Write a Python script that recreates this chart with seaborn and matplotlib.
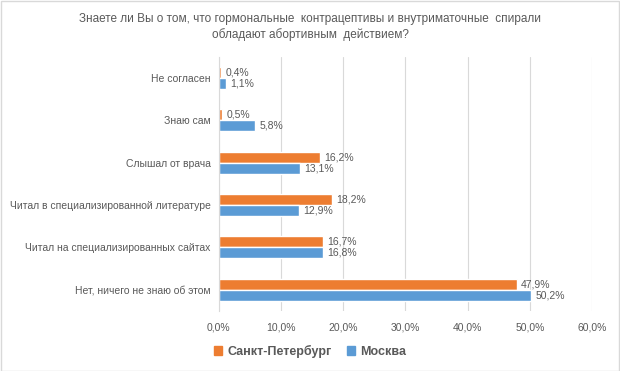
import pandas as pd
import seaborn as sns
import matplotlib.pyplot as plt
from matplotlib.patches import Rectangle

# Данные опроса
categories = ['Не согласен', 'Знаю сам', 'Слышал от врача',
              'Читал в специализированной литературе',
              'Читал на специализированных сайтах',
              'Нет, ничего не знаю об этом']
spb = [0.4, 0.5, 16.2, 18.2, 16.7, 47.9]
msk = [1.1, 5.8, 13.1, 12.9, 16.8, 50.2]
cities = ['Санкт-Петербург', 'Москва']
colors = ['#ED7D31', '#5B9BD5']
xticks = [0, 10, 20, 30, 40, 50, 60]

df = pd.DataFrame({
    'cat': categories * 2,
    'val': spb + msk,
    'city': [cities[0]] * len(categories) + [cities[1]] * len(categories),
})

sns.set_style('white')
plt.rcParams['font.family'] = ['Liberation Sans', 'DejaVu Sans']
grey = '#595959'

fig = plt.figure(figsize=(6.2, 3.71), dpi=100)
ax = fig.add_axes([0.353, 0.162, 0.602, 0.685])

sns.barplot(data=df, y='cat', x='val', hue='city', order=categories,
            hue_order=cities, palette=colors, orient='h', width=0.52,
            saturation=1, legend=False, ax=ax)

for cont in ax.containers:
    ax.bar_label(cont, labels=[f'{v:.1f}%'.replace('.', ',') for v in cont.datavalues],
                 padding=3, fontsize=7.5, color=grey)

ax.set_xlim(0, 60)
ax.set_ylim(5.5, -0.5)
ax.set_xticks(xticks)
ax.set_xticklabels([f'{t:.1f}%'.replace('.', ',') for t in xticks], fontsize=7.5, color=grey)
ax.tick_params(axis='y', labelsize=7.5, labelcolor=grey, length=0, pad=6)
ax.tick_params(axis='x', length=0, pad=8)
ax.set_xlabel('')
ax.set_ylabel('')
ax.grid(axis='x', color='#D9D9D9', linewidth=0.8)
ax.set_axisbelow(True)
for s in ['top', 'right', 'bottom']:
    ax.spines[s].set_visible(False)
ax.spines['left'].set_color('#D9D9D9')

fig.suptitle('Знаете ли Вы о том, что гормональные  контрацептивы и внутриматочные  спирали\n'
             'обладают абортивным  действием?', y=0.965, fontsize=8.5, color=grey,
             linespacing=1.35)

handles = [Rectangle((0, 0), 1, 1, color=c) for c in colors]
fig.legend(handles, cities, loc='center', bbox_to_anchor=(0.5, 0.052), ncol=2,
           frameon=False, handlelength=0.7, handleheight=0.7,
           columnspacing=1.2, handletextpad=0.4,
           prop={'weight': 'bold', 'size': 9})
for t in fig.legends[0].get_texts():
    t.set_color(grey)

fig.patches.append(Rectangle((0.001, 0.001), 0.997, 0.997, transform=fig.transFigure,
                             fill=False, edgecolor='#D9D9D9', linewidth=1))

fig.savefig('out.png', dpi=100)
